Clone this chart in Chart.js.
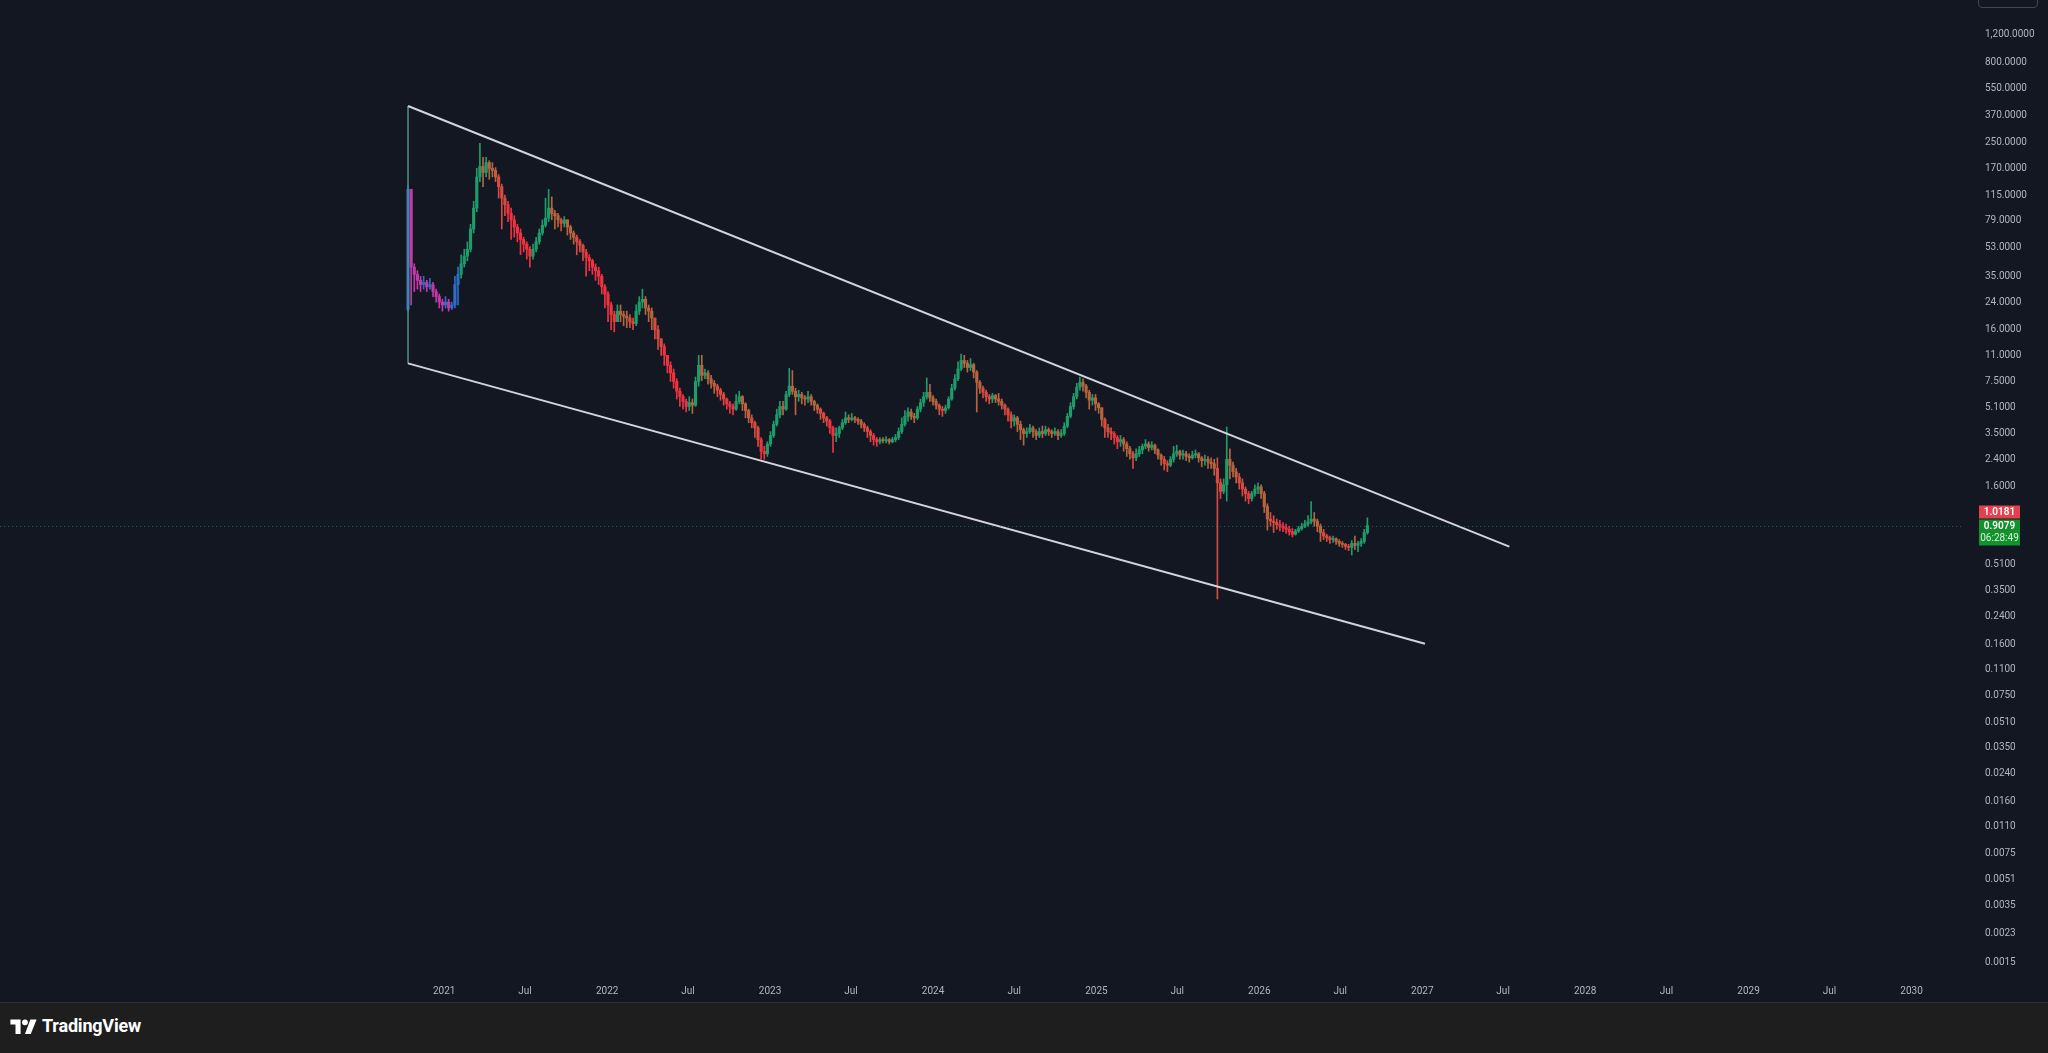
<!DOCTYPE html>
<html>
<head>
<meta charset="utf-8">
<script src="https://cdn.jsdelivr.net/npm/chart.js@4.4.1/dist/chart.umd.min.js"></script>
<style>
  html, body { margin: 0; padding: 0; width: 2048px; height: 1053px; overflow: hidden; background: #131722; }
  #wrap { position: absolute; left: 0; top: 0; width: 2048px; height: 1002px; }
  #topBtn { position: absolute; left: 1978px; top: -6px; width: 58px; height: 12px; border: 1px solid #434651; border-radius: 4px; background: #131722; }
  #footer { position: absolute; left: 0; top: 1002px; width: 2048px; height: 51px; background: #1e1e1e; border-top: 1px solid #2e2e2e; box-sizing: border-box; }
  #logo { position: absolute; left: 10px; top: 12px; display: flex; align-items: center; gap: 5px; color: #ffffff; font: 700 18px Roboto, "Noto Sans", sans-serif; letter-spacing: -0.2px; }
</style>
</head>
<body>
<div id="wrap"><canvas id="chart" width="2048" height="1002"></canvas></div>
<div id="topBtn"></div>
<div id="footer">
  <div id="logo">
    <svg width="27" height="16" viewBox="0 0 36 22"><path d="M14 22H7V9H0V2h14z" fill="#fff"/><circle cx="20" cy="6" r="4" fill="#fff"/><path d="M28 22h-8L27.5 2h8.5z" fill="#fff"/></svg>
    <span>TradingView</span>
  </div>
</div>
<script>
// weekly candles, first one opens the week of 12 Oct 2020
const firstWeek = Date.UTC(2020, 9, 12);
const WEEK = 7 * 24 * 3600 * 1000;
const firstOpen = 21.5;

const closes = [
  125, 40, 36, 33, 31, 32, 30, 31, 28, 26, 24, 23, 24, 22, 23, 31, 36, 42, 47, 52,
  70, 95, 150, 175, 160, 185, 170, 165, 150, 130, 110, 100, 88, 80, 72, 66, 60, 56, 52, 47,
  52, 58, 66, 74, 82, 95, 88, 85, 80, 76, 80, 72, 66, 62, 58, 55, 50, 46, 44, 40,
  38, 35, 30, 27, 23, 20, 18, 21, 20, 19.5, 19, 18, 17.5, 21, 24, 25, 22, 21, 19, 16,
  14, 12.5, 11, 9.5, 8.5, 7.5, 6.5, 6, 5.6, 5.2, 5.5, 5.3, 7.5, 9.5, 8.2, 8.5, 7.8, 7.3, 7, 6.6,
  6.2, 5.8, 5.4, 5.2, 5, 5.6, 6, 5.4, 4.9, 4.4, 4.1, 3.8, 3.2, 2.7, 2.6, 3, 3.4, 4, 4.6, 5.2,
  5, 6.2, 7, 6.5, 6, 6.2, 5.9, 5.8, 6, 5.6, 5.3, 5, 4.7, 4.4, 4.2, 3.8, 3.4, 3.5, 3.8, 4.1,
  4.4, 4.3, 4.4, 4.3, 4.2, 4, 3.8, 3.6, 3.4, 3.2, 3.1, 3.2, 3.15, 3.2, 3.1, 3.2, 3.3, 3.6, 4, 4.5,
  4.8, 4.5, 4.4, 5, 5.5, 6, 6.4, 5.9, 5.6, 5.3, 5, 4.9, 5.1, 5.8, 6.8, 7.8, 9, 10.2, 9.8, 9.2,
  9.6, 8.6, 7.4, 6.8, 6.4, 6, 5.8, 6.1, 5.8, 5.6, 5.3, 5, 4.6, 4.2, 4.4, 4, 3.7, 3.5, 3.6, 3.8,
  3.6, 3.4, 3.6, 3.5, 3.7, 3.6, 3.5, 3.6, 3.4, 3.5, 3.9, 4.5, 5.2, 6, 6.9, 7.4, 7, 6.4, 5.7, 5.9,
  5.4, 5.1, 4.3, 3.8, 3.6, 3.5, 3.3, 3.1, 3.2, 3, 2.8, 2.6, 2.45, 2.6, 2.75, 2.9, 3, 2.85, 2.95, 2.75,
  2.55, 2.4, 2.25, 2.2, 2.4, 2.6, 2.7, 2.55, 2.6, 2.5, 2.45, 2.55, 2.6, 2.45, 2.35, 2.4, 2.3, 2.25, 2.1, 1.7,
  1.5, 1.65, 2.4, 2.2, 2, 1.85, 1.7, 1.55, 1.45, 1.35, 1.45, 1.55, 1.6, 1.45, 1.2, 1, 0.97, 0.95, 0.92, 0.9,
  0.88, 0.86, 0.83, 0.8, 0.84, 0.87, 0.9, 0.93, 0.96, 1, 0.97, 0.9, 0.82, 0.78, 0.76, 0.74, 0.75, 0.72, 0.7, 0.69,
  0.67, 0.66, 0.7, 0.68, 0.7, 0.72, 0.82, 0.9079
];
const highs = [
  132, 125, 42, 38, 35, 35, 33, 34, 32, 29, 27, 25, 26, 25, 24, 35, 40, 48, 52, 58,
  75, 105, 170, 245, 200, 200, 190, 185, 172, 155, 135, 115, 105, 95, 85, 75, 70, 62, 58, 54,
  56, 62, 70, 80, 110, 125, 112, 92, 88, 82, 84, 80, 74, 68, 64, 60, 56, 52, 48, 45,
  42, 40, 36, 31, 28, 24, 21, 23, 23, 21, 21, 20, 19, 23, 26, 29, 26, 23, 22, 19,
  17, 14, 13, 11, 10, 9, 7.8, 6.8, 6.2, 5.8, 6, 5.8, 8, 11, 11, 9, 8.8, 8.2, 7.6, 7.2,
  6.8, 6.4, 5.9, 5.6, 5.4, 6.2, 6.5, 6.1, 5.5, 5, 4.6, 4.2, 3.9, 3.3, 2.9, 3.1, 3.6, 4.2, 5, 5.6,
  5.6, 6.5, 9.1, 8.8, 6.8, 6.6, 6.4, 6.1, 6.5, 6.2, 5.7, 5.4, 5.1, 4.8, 4.5, 4.3, 3.9, 3.8, 3.9, 4.3,
  4.8, 4.6, 4.7, 4.5, 4.4, 4.3, 4.1, 3.9, 3.7, 3.5, 3.3, 3.3, 3.3, 3.35, 3.25, 3.3, 3.45, 3.8, 4.4, 4.9,
  5.1, 5, 4.7, 5.2, 5.8, 6.4, 7.9, 7.2, 6.1, 5.8, 5.4, 5.2, 5.3, 6, 7.2, 8.3, 10, 11.2, 11, 10.2,
  10.5, 9.8, 8.8, 7.6, 7, 6.6, 6.2, 6.3, 6.2, 6.3, 5.8, 5.4, 5.1, 4.8, 4.6, 4.5, 4.2, 3.8, 3.8, 4,
  3.9, 3.7, 3.8, 3.9, 3.9, 3.8, 3.7, 3.8, 3.7, 3.7, 4.1, 4.7, 5.5, 6.3, 7.3, 8, 7.8, 7.2, 6.6, 6.2,
  6.2, 5.5, 5.1, 4.4, 4, 3.8, 3.6, 3.4, 3.4, 3.3, 3.1, 2.9, 2.7, 2.8, 2.9, 3, 3.2, 3.1, 3.1, 3,
  2.8, 2.6, 2.5, 2.35, 2.5, 2.9, 2.95, 2.75, 2.75, 2.7, 2.6, 2.7, 2.75, 2.65, 2.5, 2.55, 2.5, 2.45, 2.4, 2.45,
  1.8, 1.8, 3.85, 2.8, 2.3, 2.1, 1.95, 1.8, 1.6, 1.5, 1.5, 1.65, 1.7, 1.65, 1.5, 1.25, 1.1, 1.05, 1, 0.98,
  0.95, 0.93, 0.9, 0.87, 0.86, 0.9, 0.94, 0.98, 1.05, 1.29, 1.1, 1, 0.93, 0.86, 0.8, 0.78, 0.78, 0.76, 0.74, 0.72,
  0.7, 0.69, 0.73, 0.78, 0.72, 0.75, 0.86, 1.0181
];
const lows = [
  21, 23, 28, 29, 28, 29, 28, 29, 26, 24, 22, 21, 22, 21, 21.5, 22, 23, 34, 40, 44,
  50, 66, 90, 140, 130, 150, 145, 150, 140, 110, 70, 85, 78, 60, 62, 58, 48, 50, 45, 40,
  45, 50, 56, 64, 72, 78, 80, 70, 72, 68, 72, 64, 60, 56, 48, 50, 44, 35, 38, 36,
  33, 31, 27, 22, 18, 16, 15.5, 18, 18, 17, 16.5, 16.5, 16, 17, 20, 22, 20, 18, 16, 14,
  12, 11, 9.5, 8.5, 7.5, 6.8, 5.8, 5.2, 5, 4.8, 4.9, 4.7, 5.2, 7, 7.6, 7.8, 7.2, 6.8, 6.3, 6,
  5.7, 5.3, 5, 4.7, 4.6, 4.9, 5.4, 4.9, 4.4, 4.1, 3.8, 3.3, 2.9, 2.4, 2.4, 2.5, 2.9, 3.3, 3.9, 4.4,
  4.6, 4.9, 6, 6.2, 4.6, 5.6, 5.4, 5.3, 5.5, 5.3, 4.9, 4.7, 4.3, 4.1, 3.9, 3.5, 2.65, 3.1, 3.3, 3.7,
  4, 4.1, 4.2, 4.1, 4, 3.8, 3.6, 3.3, 3.1, 2.95, 2.9, 3, 3.05, 3.05, 3, 3.05, 3.1, 3.2, 3.5, 3.9,
  4.2, 4.3, 4.1, 4.3, 4.8, 5.2, 5.8, 5.6, 5.3, 5, 4.6, 4.5, 4.7, 5, 5.7, 6.6, 7.6, 8.8, 9.2, 8.6,
  8.8, 7.9, 4.8, 6.3, 5.9, 5.6, 5.4, 5.5, 5.5, 5.3, 5, 4.6, 4.2, 3.8, 3.9, 3.6, 3.2, 2.95, 3.3, 3.5,
  3.3, 3.2, 3.3, 3.3, 3.4, 3.4, 3.3, 3.4, 3.2, 3.3, 3.4, 3.8, 4.4, 5, 5.8, 6.6, 6.5, 5.9, 5, 5.3,
  4.9, 4.7, 3.9, 3.3, 3.3, 3.2, 3, 2.8, 2.9, 2.7, 2.5, 2.4, 2.1, 2.35, 2.5, 2.6, 2.8, 2.7, 2.75, 2.6,
  2.4, 2.2, 2.05, 2, 2.15, 2.3, 2.5, 2.4, 2.4, 2.35, 2.3, 2.4, 2.45, 2.3, 2.15, 2.2, 2.1, 2.1, 1.9, 0.31,
  1.35, 1.45, 1.3, 1.8, 1.85, 1.7, 1.55, 1.4, 1.3, 1.25, 1.3, 1.4, 1.45, 1.35, 1.1, 0.85, 0.9, 0.82, 0.86, 0.84,
  0.83, 0.81, 0.79, 0.77, 0.79, 0.82, 0.85, 0.88, 0.9, 0.93, 0.9, 0.83, 0.72, 0.74, 0.72, 0.7, 0.71, 0.69, 0.67, 0.66,
  0.64, 0.63, 0.59, 0.64, 0.62, 0.67, 0.7, 0.8
];

// price axis labels (1.1 and 0.75 sit under the price tags)
const priceTicks = [1200, 800, 550, 370, 250, 170, 115, 79, 53, 35, 24, 16, 11, 7.5, 5.1, 3.5, 2.4, 1.6,
  0.51, 0.35, 0.24, 0.16, 0.11, 0.075, 0.051, 0.035, 0.024, 0.016, 0.011, 0.0075, 0.0051, 0.0035, 0.0023, 0.0015];
const tickYears = [2021, 2022, 2023, 2024, 2025, 2026, 2027, 2028, 2029, 2030];

// channel drawing: [date, price]
const upperLine = [["2020-10-12", 424], ["2027-07-15", 0.667]];
const lowerLine = [["2020-10-12", 9.77], ["2027-01-07", 0.161]];
const channelEdge = [["2020-10-12", 424], ["2020-10-12", 9.77]];

const lastPrice = 0.9079;
const markPrice = 1.0181;
const countdown = "06:28:49";

// -------------------------
const candleX = closes.map((c, i) => firstWeek + i * WEEK);
const opens = closes.map((c, i) => i === 0 ? firstOpen : closes[i - 1]);

// bars since the last up candle -> down candles fade from orange to red
let sinceUp = 0;
const downAge = closes.map((c, i) => {
  if (c >= opens[i]) sinceUp = 0; else sinceUp++;
  return sinceUp;
});

function candleColor(i) {
  const up = closes[i] >= opens[i];
  if (i < 17) return up ? "#2f6cc8" : "#c03aa8";
  if (up) return "#1f9c6a";
  const k = downAge[i];
  if (k <= 3) return "#b8653f";
  if (k <= 6) return "#d84c40";
  return "#ef3340";
}

const toPts = arr => arr.map(([d, v]) => ({ x: Date.parse(d), y: v }));

const timeTicks = [];
tickYears.forEach(yr => {
  timeTicks.push(Date.UTC(yr, 0, 1));
  if (yr < 2030) timeTicks.push(Date.UTC(yr, 6, 1));
});

const axisFont = { family: "Roboto, 'Noto Sans', sans-serif", size: 10 };

// price line + tags on the axis
const priceMarks = {
  id: "priceMarks",
  afterDraw(chart) {
    const { ctx, chartArea, scales: { y } } = chart;
    const py = Math.round(y.getPixelForValue(lastPrice)) + 0.5;
    ctx.save();
    ctx.setLineDash([1, 3]);
    ctx.strokeStyle = "rgba(40,150,110,0.55)";
    ctx.lineWidth = 1;
    ctx.beginPath();
    ctx.moveTo(chartArea.left, py);
    ctx.lineTo(chartArea.right, py);
    ctx.stroke();
    ctx.setLineDash([]);

    const bx = 1979, bw = 41;
    // green tag: price + countdown
    ctx.fillStyle = "#12912c";
    ctx.fillRect(bx, py - 7, bw, 26);
    // red tag just above
    ctx.fillStyle = "#e5404e";
    ctx.fillRect(bx, py - 21, bw, 13);

    ctx.textAlign = "center";
    ctx.textBaseline = "middle";
    ctx.fillStyle = "#ffffff";
    ctx.font = "600 10px Roboto, 'Noto Sans', sans-serif";
    ctx.fillText(markPrice.toFixed(4), bx + bw / 2, py - 14.5);
    ctx.fillText(lastPrice.toFixed(4), bx + bw / 2, py);
    ctx.font = "10px Roboto, 'Noto Sans', sans-serif";
    ctx.fillStyle = "#d8f0dc";
    ctx.fillText(countdown, bx + bw / 2, py + 11.5);
    ctx.restore();
  }
};

const ctxChart = document.getElementById("chart").getContext("2d");

new Chart(ctxChart, {
  type: "bar",
  data: {
    datasets: [
      {
        type: "line", data: toPts(upperLine), borderColor: "#d1d4dc", borderWidth: 2,
        pointRadius: 0, order: 0
      },
      {
        type: "line", data: toPts(lowerLine), borderColor: "#d1d4dc", borderWidth: 2,
        pointRadius: 0, order: 0
      },
      {
        type: "line", data: toPts(channelEdge), borderColor: "#4f9089", borderWidth: 1.5,
        pointRadius: 0, order: 0
      },
      {
        label: "bodies",
        data: closes.map((c, i) => ({ x: candleX[i], y: [opens[i], c] })),
        backgroundColor: ctx => candleColor(ctx.dataIndex),
        barThickness: 2.5, minBarLength: 1, grouped: false, borderWidth: 0, order: 1
      },
      {
        label: "wicks",
        data: closes.map((c, i) => ({ x: candleX[i], y: [lows[i], highs[i]] })),
        backgroundColor: ctx => candleColor(ctx.dataIndex),
        barThickness: 1, grouped: false, borderWidth: 0, order: 2
      }
    ]
  },
  options: {
    responsive: false,
    devicePixelRatio: 1,
    animation: false,
    layout: { padding: 0 },
    plugins: { legend: { display: false }, tooltip: { enabled: false } },
    scales: {
      x: {
        type: "linear",
        min: Date.UTC(2018, 3, 12),
        max: Date.UTC(2030, 3, 24),
        offset: false,
        grid: { display: false, drawTicks: false },
        border: { display: false },
        afterBuildTicks: s => { s.ticks = timeTicks.map(v => ({ value: v })); },
        afterFit: s => { s.height = 28; },
        ticks: {
          autoSkip: false, maxRotation: 0, padding: 11, color: "#b2b5be", font: axisFont,
          callback: v => {
            const d = new Date(v);
            return d.getUTCMonth() === 0 ? String(d.getUTCFullYear()) : "Jul";
          }
        }
      },
      y: {
        type: "logarithmic",
        position: "right",
        min: 0.001276,
        max: 1834,
        // invisible tick marks push the labels right without adding top padding
        grid: { display: true, drawOnChartArea: false, drawTicks: true, tickLength: 23, color: "rgba(0,0,0,0)" },
        border: { display: false },
        afterBuildTicks: s => { s.ticks = priceTicks.map(v => ({ value: v })); },
        afterFit: s => { s.width = 86; },
        ticks: {
          autoSkip: false, padding: 0, color: "#b2b5be", font: axisFont,
          callback: v => Number(v).toLocaleString("en-US", { minimumFractionDigits: 4, maximumFractionDigits: 4 })
        }
      }
    }
  },
  plugins: [priceMarks]
});
</script>
</body>
</html>
